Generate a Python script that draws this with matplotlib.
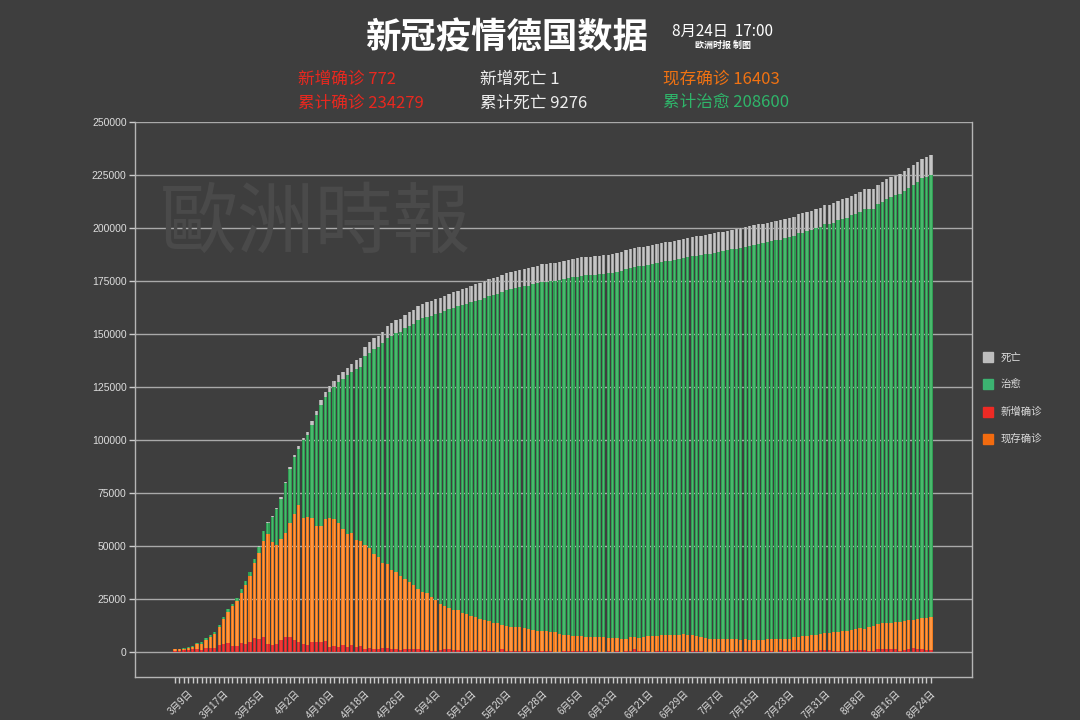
import matplotlib
matplotlib.use("Agg")
import matplotlib.pyplot as plt
import numpy as np
import pandas as pd

plt.rcParams['font.family'] = ['Liberation Sans', 'Noto Sans CJK SC', 'DejaVu Sans']

# -----------------------------------------------------------------------------|
# data (one bar per day, 2020-03-06 .. 2020-08-24)
dates = pd.date_range("2020-03-06", "2020-08-24", freq="D")
day_labels = ["{}月{}日".format(d.month, d.day) for d in dates]

total = [
    1600, 1600, 1900, 2200, 3000, 4300, 4600, 6500, 8100, 9500,
    12800, 16500, 20200, 22800, 25600, 29700, 33500, 37700, 44000, 49800,
    57300, 61100, 64100, 67700, 72900, 80400, 87200, 93000, 97000, 101100,
    103800, 108800, 113600, 118800, 122500, 125500, 128000, 130500, 132000, 134000,
    136000, 137500, 138700, 144000, 146000, 148000, 149000, 151000, 153800, 155000,
    156500, 157000, 159000, 160200, 161300, 163200, 164200, 165000, 165600, 166300,
    167100, 168100, 169000, 169800, 170500, 171100, 171800, 172600, 173400, 174000,
    174900, 175700, 176300, 176900, 177800, 178700, 179300, 179900, 180400, 180700,
    181100, 181700, 182300, 182900, 183200, 183500, 183700, 184000, 184400, 184900,
    185400, 185800, 186100, 186400, 186500, 186700, 187000, 187200, 187400, 187700,
    188000, 188500, 189500, 190100, 190500, 190800, 191100, 191400, 191900, 192500,
    193000, 193300, 193600, 193900, 194300, 194800, 195200, 195600, 196000, 196300,
    196600, 197000, 197500, 198000, 198300, 198700, 199100, 199400, 199800, 200300,
    200800, 201300, 201700, 202100, 202400, 202800, 203200, 203600, 204200, 204700,
    205300, 206600, 207000, 207500, 208100, 209100, 209400, 210800, 210900, 211600,
    212800, 213600, 214100, 215300, 215900, 216900, 218300, 218300, 218300, 220300,
    221600, 223100, 223900, 224700, 225300, 226900, 228100, 229700, 231100, 232700,
    233400, 234279,
]

active = [
    1300, 1300, 1600, 1800, 2300, 3600, 3800, 5800, 7300, 8600,
    11900, 15500, 19000, 21500, 24200, 28000, 31800, 35800, 41800, 46800,
    52500, 55800, 52000, 50600, 53300, 56300, 60700, 64900, 69300, 63000,
    63800, 63100, 59200, 59600, 62600, 63000, 62600, 60900, 58200, 55800,
    56000, 52800, 52400, 50300, 49100, 46400, 44800, 42100, 41400, 38900,
    37700, 35800, 34500, 32900, 31600, 29700, 28500, 27800, 25900, 24700,
    22800, 21500, 20900, 19900, 19600, 18400, 17700, 17100, 16500, 15500,
    14900, 14600, 13900, 13600, 12700, 12300, 12000, 11700, 11700, 11100,
    10800, 10400, 10100, 10100, 9800, 9500, 9500, 8500, 7900, 7900,
    7600, 7600, 7600, 7300, 7300, 7000, 7000, 7000, 6600, 6600,
    6600, 6300, 6000, 7000, 7000, 6600, 7300, 7600, 7600, 7600,
    7900, 7900, 7900, 7900, 8200, 8500, 8200, 7900, 7600, 7300,
    6600, 6300, 6300, 6000, 6000, 6000, 6000, 6000, 5700, 6000,
    5700, 5700, 5700, 5700, 6000, 6000, 6000, 6300, 6300, 6300,
    7000, 7300, 7600, 7600, 7900, 7900, 8500, 8900, 8900, 9200,
    9500, 9800, 10100, 10400, 10800, 11400, 10800, 12000, 12300, 13300,
    13900, 13900, 13900, 14200, 14200, 14600, 14900, 15200, 15500, 16100,
    16100, 16403,
]

deaths = [
    1, 2, 2, 3, 4, 5, 6, 8, 9, 12,
    15, 20, 28, 40, 55, 70, 90, 120, 160, 200,
    250, 320, 400, 480, 560, 650, 800, 950, 1100, 1300,
    1500, 1700, 1900, 2100, 2400, 2650, 2900, 3100, 3300, 3550,
    3800, 4050, 4300, 4550, 4750, 4950, 5150, 5350, 5550, 5750,
    5900, 6000, 6100, 6250, 6400, 6550, 6700, 6800, 6900, 6950,
    7050, 7150, 7250, 7350, 7450, 7500, 7550, 7650, 7700, 7800,
    7850, 7900, 7950, 8000, 8050, 8100, 8150, 8200, 8250, 8300,
    8300, 8350, 8400, 8450, 8500, 8550, 8550, 8600, 8600, 8650,
    8650, 8700, 8700, 8750, 8750, 8800, 8800, 8850, 8850, 8850,
    8900, 8900, 8900, 8950, 8950, 8950, 8950, 9000, 9000, 9000,
    9000, 9000, 9050, 9050, 9050, 9050, 9050, 9050, 9050, 9050,
    9100, 9100, 9100, 9100, 9100, 9100, 9100, 9100, 9100, 9100,
    9100, 9100, 9100, 9100, 9100, 9100, 9100, 9150, 9150, 9150,
    9150, 9150, 9150, 9150, 9150, 9150, 9150, 9150, 9150, 9150,
    9200, 9200, 9200, 9200, 9200, 9200, 9200, 9200, 9200, 9220,
    9230, 9240, 9240, 9240, 9250, 9250, 9260, 9260, 9270, 9270,
    9275, 9276,
]

new_cases = [
    630, 630, 950, 950, 1260, 1580, 950, 1900, 1900, 1900,
    3160, 3640, 4100, 2850, 2700, 4100, 3800, 4750, 6500, 6000,
    7100, 3800, 3300, 3800, 5700, 7100, 7100, 5700, 4900, 3800,
    3500, 4900, 4900, 4900, 5200, 2200, 3000, 2200, 3200, 2500,
    3300, 2500, 2700, 1600, 1900, 1600, 1300, 1800, 2000, 1600,
    1300, 1100, 1200, 1500, 1600, 1300, 1000, 900, 700, 600,
    900, 1200, 1200, 1100, 800, 600, 700, 600, 900, 400,
    800, 500, 600, 200, 1200, 700, 500, 700, 300, 300,
    300, 600, 300, 700, 700, 300, 200, 200, 300, 300,
    400, 500, 500, 300, 400, 400, 100, 200, 500, 100,
    300, 200, 600, 400, 1200, 500, 400, 600, 200, 600,
    500, 700, 300, 300, 300, 400, 200, 400, 400, 500,
    200, 200, 200, 400, 400, 200, 500, 300, 400, 300,
    400, 400, 500, 300, 400, 600, 100, 800, 500, 500,
    900, 800, 300, 300, 600, 700, 900, 900, 1000, 700,
    300, 600, 700, 1000, 1100, 1100, 900, 700, 400, 1200,
    1400, 1500, 1400, 1200, 500, 900, 1500, 1700, 1400, 1200,
    800, 772,
]

series_names = ["死亡", "治愈", "新增确诊", "现存确诊"]
# -----------------------------------------------------------------------------|

BG = "#3e3e3e"
TXT = "#dddddd"
GRID = "#a9a9a9"


def stripe_bar(ax, x, height, bottom, base, light, width=0.76):
    ax.bar(x, height, bottom=bottom, width=width, color=base, linewidth=0, zorder=3)
    ax.bar(x, height, bottom=bottom, width=width * 0.38, color=light, linewidth=0, zorder=3)


def main():
    x = np.arange(len(dates))
    act = np.array(active, dtype=float)
    dth = np.array(deaths, dtype=float)
    rec = np.array(total, dtype=float) - act - dth
    new = np.array(new_cases, dtype=float)

    fig = plt.figure(figsize=(10.8, 7.2), dpi=100, facecolor=BG)
    ax = fig.add_axes([0.125, 0.0597, 0.775, 0.7709], facecolor=BG)

    stripe_bar(ax, x, act, 0, "#ef7a1d", "#ff9642")
    stripe_bar(ax, x, rec, act, "#2f9c53", "#49b96c")
    stripe_bar(ax, x, dth, act + rec, "#a7a7a7", "#c6c6c6")
    ax.bar(x, new, width=0.76, color="#d9282a", linewidth=0, zorder=4)
    ax.bar(x, new, width=0.76 * 0.38, color="#ef3a36", linewidth=0, zorder=4)

    ax.set_xlim(-9.05, len(x) - 1 + 9.3)
    ax.set_ylim(-11800, 250000)
    ax.set_yticks(np.arange(0, 250001, 25000))
    ax.set_yticklabels([str(v) for v in range(0, 250001, 25000)])
    ax.yaxis.grid(True, color=GRID, linewidth=1.0, zorder=1)
    ax.set_axisbelow(True)

    ax.set_xticks(x, minor=True)
    lab_idx = list(range(3, len(x), 8))
    ax.set_xticks(lab_idx)
    ax.set_xticklabels([day_labels[i] for i in lab_idx], rotation=45,
                       ha="right", va="top", rotation_mode="anchor")
    ax.tick_params(axis="x", which="both", length=4, width=1, color="#cccccc",
                   colors=TXT, labelsize=7, pad=4)
    ax.tick_params(axis="y", length=4, width=1, color="#cccccc", colors=TXT,
                   labelsize=7.5, pad=2)

    for side in ["left", "bottom", "right"]:
        ax.spines[side].set_color("#b5b5b5")
        ax.spines[side].set_linewidth(1.0)
    ax.spines["top"].set_visible(False)

    # watermark
    ax.text(0.03, 0.815, "歐洲時報", transform=ax.transAxes, fontsize=56,
            color="#4a4a4a", family=["Noto Sans CJK TC"], fontweight="normal",
            va="center", ha="left", zorder=2)

    # legend on the right
    leg_colors = ["#bdbdbd", "#3cb371", "#ee2a24", "#f26b0f"]
    for k, (name, c) in enumerate(zip(series_names, leg_colors)):
        yy = 1 - (357 + 27.3 * k) / 720
        fig.patches.append(plt.Rectangle((983 / 1080, yy - 5 / 720), 10 / 1080, 10 / 720,
                                         transform=fig.transFigure, color=c))
        fig.text(1001 / 1080, yy, name, color=TXT, fontsize=7.5, va="center",
                 family=["Noto Sans CJK SC"])

    # title block
    fig.text(507 / 1080, 1 - 38 / 720, "新冠疫情德国数据", color="white", fontsize=25.5,
             fontweight="bold", ha="center", va="center", family=["Noto Sans CJK SC"])
    fig.text(723 / 1080, 1 - 31 / 720, "8月24日  17:00", color="white", fontsize=11,
             ha="center", va="center", family=["Noto Sans CJK SC"])
    fig.text(723 / 1080, 1 - 45 / 720, "欧洲时报 制图", color="white", fontsize=6.5,
             fontweight="bold", ha="center", va="center", family=["Noto Sans CJK SC"])

    stats = [
        (298, 79, "新增确诊 772", "#e8281f"),
        (480, 79, "新增死亡 1", "#eeeeee"),
        (663, 79, "现存确诊 16403", "#f07212"),
        (298, 103, "累计确诊 234279", "#e8281f"),
        (480, 103, "累计死亡 9276", "#eeeeee"),
        (663, 103, "累计治愈 208600", "#2fb56a"),
    ]
    for px, py, s, c in stats:
        fig.text(px / 1080, 1 - py / 720, s, color=c, fontsize=12, ha="left",
                 va="center", fontweight="medium", family=["Noto Sans CJK SC"])

    fig.savefig("out.png", dpi=100, facecolor=BG)


if __name__ == '__main__':
    main()
